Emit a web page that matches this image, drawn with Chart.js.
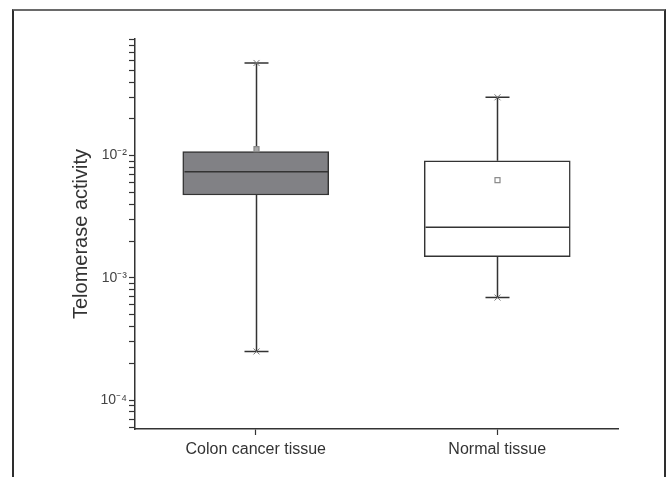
<!DOCTYPE html>
<html lang="en">
<head>
    <meta charset="UTF-8">
    <title>Telomerase activity box plot</title>
    <script src="https://cdn.jsdelivr.net/npm/chart.js"></script>
    <style>
        body { margin: 0; background: #fff; overflow: hidden; }
        #wrap { position: relative; width: 669px; height: 477px; }
        #frame {
            position: absolute; left: 12px; top: 9px; width: 650px; height: 480px;
            border-left: 2px solid #2e2e2e; border-right: 2px solid #2e2e2e;
            border-top: 2px solid #6a6a6a; pointer-events: none;
        }
        canvas { position: absolute; left: 0; top: 0; }
    </style>
</head>
<body>
    <div id="wrap">
        <canvas id="boxChart" width="669" height="477"></canvas>
        <div id="frame"></div>
    </div>

    <script>
        // Values (log scale)
        const categories = ['Colon cancer tissue', 'Normal tissue'];
        const whiskerLow = [2.5e-4, 6.9e-4];
        const q1 = [4.76e-3, 1.49e-3];
        const medians = [7.37e-3, 2.6e-3];
        const q3 = [1.08e-2, 9.06e-3];
        const whiskerHigh = [5.73e-2, 3.0e-2];
        const means = [1.13e-2, 6.3e-3];
        const boxColors = ['#818185', '#ffffff'];

        // Axis ticks
        const yMin = 5.8e-5;
        const yMax = 0.09;
        const majorTicks = [1e-4, 1e-3, 1e-2];
        const tickLabels = ['10⁻⁴', '10⁻³', '10⁻²'];

        const ink = '#333333';

        // Whiskers, caps, medians and means, positioned with the chart's scales
        const boxExtras = {
            id: 'boxExtras',
            afterDatasetsDraw(chart) {
                const ctx = chart.ctx;
                const x = chart.scales.x;
                const y = chart.scales.y;
                const half = 72;
                const cap = 12;
                ctx.save();
                categories.forEach((c, i) => {
                    const cx = Math.round(x.getPixelForValue(i)) + 0.5;
                    const yHi = y.getPixelForValue(whiskerHigh[i]);
                    const yLo = y.getPixelForValue(whiskerLow[i]);
                    const yQ3 = y.getPixelForValue(q3[i]);
                    const yQ1 = y.getPixelForValue(q1[i]);
                    const yMed = y.getPixelForValue(medians[i]);
                    const yMean = y.getPixelForValue(means[i]);

                    ctx.strokeStyle = ink;
                    ctx.lineWidth = 1.5;
                    ctx.beginPath();
                    // whiskers
                    ctx.moveTo(cx, yHi); ctx.lineTo(cx, yQ3);
                    ctx.moveTo(cx, yQ1); ctx.lineTo(cx, yLo);
                    // caps
                    ctx.moveTo(cx - cap, yHi); ctx.lineTo(cx + cap, yHi);
                    ctx.moveTo(cx - cap, yLo); ctx.lineTo(cx + cap, yLo);
                    // median
                    ctx.moveTo(cx - half, yMed); ctx.lineTo(cx + half, yMed);
                    ctx.stroke();

                    // x markers at the whisker ends
                    ctx.strokeStyle = '#777';
                    ctx.lineWidth = 1;
                    [yHi, yLo].forEach(py => {
                        ctx.beginPath();
                        ctx.moveTo(cx - 3, py - 3); ctx.lineTo(cx + 3, py + 3);
                        ctx.moveTo(cx + 3, py - 3); ctx.lineTo(cx - 3, py + 3);
                        ctx.stroke();
                    });

                    // mean marker (open square)
                    ctx.strokeStyle = '#888';
                    ctx.lineWidth = 1.2;
                    ctx.fillStyle = i === 0 ? '#aaa' : '#fff';
                    ctx.fillRect(cx - 2.5, yMean - 2.5, 5, 5);
                    ctx.strokeRect(cx - 2.5, yMean - 2.5, 5, 5);
                });
                ctx.restore();
            }
        };

        const ctx = document.getElementById('boxChart').getContext('2d');
        const boxChart = new Chart(ctx, {
            type: 'bar',
            data: {
                labels: categories,
                datasets: [{
                    label: 'Interquartile range',
                    data: q1.map((v, i) => [v, q3[i]]),
                    backgroundColor: boxColors,
                    borderColor: ink,
                    borderWidth: 1.5,
                    borderSkipped: false,
                    barThickness: 146
                }]
            },
            options: {
                responsive: false,
                devicePixelRatio: 1,
                animation: false,
                layout: { padding: { left: 69, top: 39, right: 51, bottom: 0 } },
                plugins: {
                    legend: { display: false },
                    tooltip: { enabled: false }
                },
                scales: {
                    x: {
                        type: 'category',
                        offset: true,
                        afterFit: s => { s.height = 48; },
                        border: { color: ink, width: 1.5 },
                        grid: {
                            offset: false,
                            drawOnChartArea: false,
                            drawTicks: true,
                            tickLength: 6,
                            tickColor: ink,
                            tickWidth: 1.2
                        },
                        ticks: {
                            color: ink,
                            padding: 5,
                            font: { family: 'Liberation Sans', size: 16 }
                        }
                    },
                    y: {
                        type: 'logarithmic',
                        min: yMin,
                        max: yMax,
                        afterFit: s => { s.width = 66; },
                        afterBuildTicks: s => {
                            const t = [];
                            for (let e = -5; e <= -2; e++) {
                                for (let m = 1; m <= 9; m++) {
                                    const v = m * Math.pow(10, e);
                                    if (v >= yMin && v <= yMax * 1.0001) t.push({ value: v });
                                }
                            }
                            s.ticks = t;
                        },
                        border: { color: ink, width: 1.5 },
                        grid: {
                            drawOnChartArea: false,
                            drawTicks: true,
                            tickLength: 6,
                            tickColor: ink,
                            tickWidth: 1.2
                        },
                        ticks: {
                            autoSkip: false,
                            color: '#444',
                            padding: 2,
                            font: { family: 'Liberation Sans', size: 14 },
                            callback: function (value) {
                                const k = majorTicks.findIndex(m => Math.abs(m - value) / m < 1e-6);
                                return k >= 0 ? tickLabels[k] : '';
                            }
                        },
                        title: {
                            display: true,
                            text: 'Telomerase activity',
                            color: ink,
                            padding: { top: 0, bottom: 0 },
                            font: { family: 'Liberation Sans', size: 20 }
                        }
                    }
                }
            },
            plugins: [boxExtras]
        });
    </script>
</body>
</html>
